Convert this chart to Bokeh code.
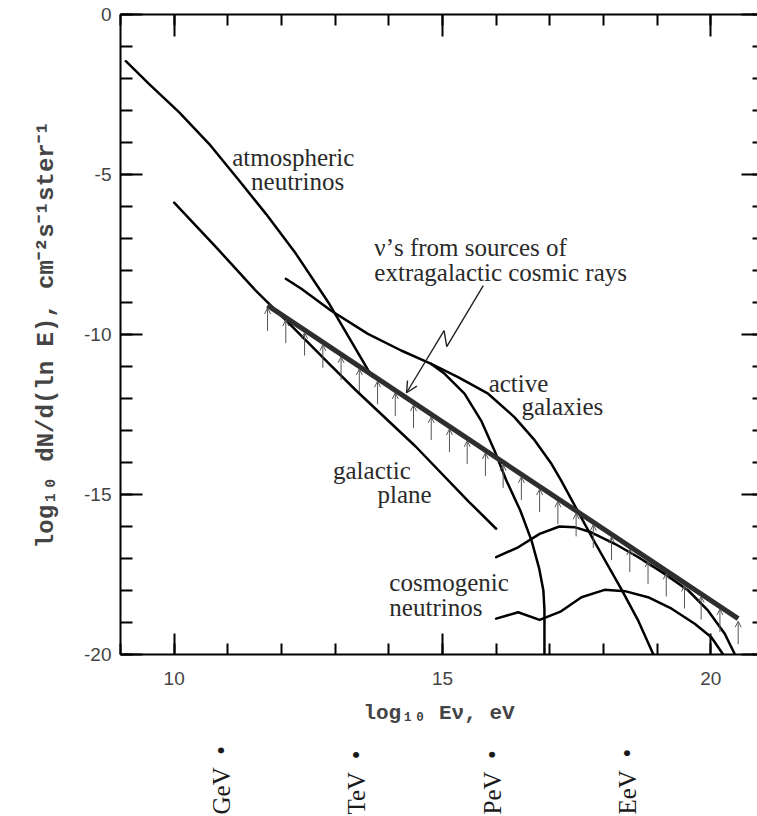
import numpy as np
from bokeh.plotting import figure
from bokeh.models import (Range1d, LinearAxis, FixedTicker, Arrow, OpenHead,
                          ColumnDataSource)
from bokeh.layouts import column
from bokeh.embed import file_html
from bokeh.resources import INLINE
from bokeh.core.properties import value

# ---------------- data ----------------
# x = log10(E / eV), y = log10 dN/d(ln E)
atmo_x = [9.10, 9.53, 10.09, 10.65, 11.21, 11.71, 12.27, 12.89, 13.68]
atmo_y = [-1.46, -2.17, -3.05, -4.04, -5.19, -6.23, -7.48, -9.04, -11.30]

galplane_x = [10.00, 10.78, 11.52, 12.21, 12.89, 13.39, 14.50, 15.47, 16.00]
galplane_y = [-5.88, -7.27, -8.63, -9.77, -10.92, -11.75, -13.50, -15.19, -16.07]

agn_common_x = [12.08, 12.37, 12.92, 13.61, 14.23, 14.79]
agn_common_y = [-8.26, -8.57, -9.25, -9.98, -10.50, -10.92]

agn_a_x = [14.79, 15.04, 15.41, 15.72, 15.97, 16.19, 16.45, 16.66, 16.80, 16.88, 16.90, 16.90]
agn_a_y = [-10.92, -11.23, -11.85, -12.69, -13.63, -14.56, -15.50, -16.44, -17.30, -18.00, -18.60, -20.00]

agn_b_x = [14.79, 15.29, 15.85, 16.34, 16.72, 17.03, 17.21, 17.53, 17.84, 18.33, 18.65, 18.93]
agn_b_y = [-10.92, -11.33, -11.85, -12.58, -13.31, -14.04, -14.56, -15.55, -16.50, -17.95, -18.95, -20.00]

cosmo_hi_x = [16.00, 16.41, 16.81, 17.18, 17.46, 17.77, 18.21, 18.65, 19.14, 19.58, 19.95, 20.26, 20.45]
cosmo_hi_y = [-16.96, -16.65, -16.23, -16.00, -16.02, -16.18, -16.54, -16.96, -17.48, -18.00, -18.63, -19.35, -20.00]

cosmo_lo_x = [16.00, 16.41, 16.81, 17.21, 17.59, 18.02, 18.40, 18.83, 19.27, 19.70, 20.01, 20.23]
cosmo_lo_y = [-18.88, -18.68, -18.92, -18.65, -18.21, -17.98, -18.02, -18.21, -18.57, -19.04, -19.46, -20.00]

# bound from sources of extragalactic cosmic rays (lower limit, with arrows)
eg_x = [11.74, 20.51]
eg_y = [-9.09, -18.88]
eg_arrow_x = [11.74, 12.08, 12.43, 12.77, 13.11, 13.45, 13.79, 14.12, 14.46,
              14.79, 15.13, 15.46, 15.80, 16.13, 16.47, 16.81, 17.15, 17.49,
              17.81, 18.15, 18.49, 18.83, 19.17, 19.51, 19.82, 20.17, 20.51]

# zig-zag pointer to the bound: polyline then arrow tip
pointer_x = [15.76, 15.08, 15.03]
pointer_y = [-8.47, -10.38, -9.88]
pointer_tip = (14.33, -11.82)

energy_names = ["GeV", "TeV", "PeV", "EeV"]
energy_log10 = [9, 12, 15, 18]

x_major = [10, 15, 20]
x_minor = list(range(9, 22))
x_tick_labels = ["10", "15", "20"]
y_major = [-20, -15, -10, -5, 0]
y_minor = list(range(-20, 1))
y_tick_labels = ["-20", "-15", "-10", "-5", "0"]

centered_labels = [("atmospheric", 12.22, -4.46), ("neutrinos", 12.30, -5.22)]
left_labels = [("\u03bd\u2019s from sources of", 13.73, -7.29),
               ("extragalactic cosmic rays", 13.73, -8.06),
               ("active", 15.86, -11.52),
               ("galaxies", 16.47, -12.24),
               ("galactic", 12.96, -14.26),
               ("plane", 13.79, -14.99),
               ("cosmogenic", 14.01, -17.76),
               ("neutrinos", 14.01, -18.54)]

# ---------------- layout constants ----------------
W = 757
LEFT = 120
X0, X1 = 9.0, 20.87
H1, H2 = 730, 85

SERIF = value("Liberation Serif")
MONO = "Liberation Mono"
SANS = "Liberation Sans"

p = figure(width=W, height=H1, x_range=Range1d(X0, X1), y_range=Range1d(-20, 0),
           toolbar_location=None, output_backend="svg",
           min_border_left=LEFT, min_border_right=0, min_border_top=14,
           min_border_bottom=76, outline_line_color=None)
p.grid.visible = False
p.background_fill_color = "white"
p.border_fill_color = "white"


def style_axis(ax, major, minor, maj_in, min_in, line=True):
    ax.ticker = FixedTicker(ticks=major, minor_ticks=minor)
    ax.major_tick_in = maj_in
    ax.major_tick_out = 0
    ax.minor_tick_in = min_in
    ax.minor_tick_out = 0
    ax.major_tick_line_width = 2
    ax.minor_tick_line_width = 2
    ax.major_tick_line_color = "black"
    ax.minor_tick_line_color = "black"
    ax.axis_line_width = 2
    ax.axis_line_color = "black" if line else None


def hide_labels(ax, major):
    ax.major_label_overrides = {v: "" for v in major}
    ax.major_label_text_color = None
    ax.major_label_standoff = 0


xb = p.xaxis[0]
style_axis(xb, x_major, x_minor, 21, 11)
xb.major_label_overrides = {v: s for v, s in zip(x_major, x_tick_labels)}
xb.major_label_text_font = SANS
xb.major_label_text_font_size = "19px"
xb.major_label_standoff = 17
xb.axis_label = "log\u2081\u2080 E\u03bd, eV"
xb.axis_label_text_font = MONO
xb.axis_label_text_font_size = "21px"
xb.axis_label_text_font_style = "bold"
xb.axis_label_standoff = 14

yl = p.yaxis[0]
style_axis(yl, y_major, y_minor, 22, 12)
yl.major_label_overrides = {v: s for v, s in zip(y_major, y_tick_labels)}
yl.major_label_text_font = SANS
yl.major_label_text_font_size = "19px"
yl.major_label_standoff = 9
yl.axis_label = "log\u2081\u2080 dN/d(ln E), cm\u207b\u00b2s\u207b\u00b9ster\u207b\u00b9"
yl.axis_label_text_font = MONO
yl.axis_label_text_font_size = "24px"
yl.axis_label_text_font_style = "bold"
yl.axis_label_standoff = 21

xt = LinearAxis()
style_axis(xt, x_major, x_minor, 22, 11)
hide_labels(xt, x_major)
p.add_layout(xt, "above")

yr = LinearAxis()
style_axis(yr, y_major, y_minor, 16, 5, line=False)
hide_labels(yr, y_major)
p.add_layout(yr, "right")

# ---------------- curves ----------------
curve_kw = dict(line_color="black", line_width=2.5, line_join="round", line_cap="round")
p.line(atmo_x, atmo_y, **curve_kw)
p.line(galplane_x, galplane_y, **curve_kw)
p.line(agn_common_x, agn_common_y, **curve_kw)
p.line(agn_a_x, agn_a_y, **curve_kw)
p.line(agn_b_x, agn_b_y, **curve_kw)
p.line(cosmo_hi_x, cosmo_hi_y, **curve_kw)
p.line(cosmo_lo_x, cosmo_lo_y, **curve_kw)

# thick bound line
p.line(eg_x, eg_y, line_color="#2e2e2e", line_width=5)

# upward arrows under the bound
tips = np.interp(eg_arrow_x, eg_x, eg_y) - 0.08
arrow_src = ColumnDataSource(dict(x0=eg_arrow_x, y0=tips - 0.72,
                                  x1=eg_arrow_x, y1=tips))
p.add_layout(Arrow(end=OpenHead(size=6, line_color="#555555", line_width=1),
                   x_start="x0", y_start="y0", x_end="x1", y_end="y1",
                   source=arrow_src, line_color="#555555", line_width=1))

# zig-zag pointer
p.line(pointer_x, pointer_y, line_color="#222222", line_width=1.4)
p.add_layout(Arrow(end=OpenHead(size=11, line_color="#222222", line_width=1.4),
                   x_start=pointer_x[-1], y_start=pointer_y[-1],
                   x_end=pointer_tip[0], y_end=pointer_tip[1],
                   line_color="#222222", line_width=1.4))

# ---------------- curve labels ----------------
lab_kw = dict(text_font=SERIF, text_font_size="25px", text_color="#2a2a2a",
              text_baseline="alphabetic")
p.text(x=[c[1] for c in centered_labels], y=[c[2] for c in centered_labels],
       text=[c[0] for c in centered_labels], text_align="center", **lab_kw)
p.text(x=[c[1] for c in left_labels], y=[c[2] for c in left_labels],
       text=[c[0] for c in left_labels], text_align="left", **lab_kw)

# ---------------- energy unit strip ----------------
frame_w = W - LEFT
x2_start = X0 - LEFT * (X1 - X0) / frame_w
p2 = figure(width=W, height=H2, x_range=Range1d(x2_start, X1), y_range=Range1d(0, H2),
            toolbar_location=None, output_backend="svg", min_border=0,
            x_axis_location=None, y_axis_location=None, outline_line_color=None)
p2.grid.visible = False
p2.text(x=energy_log10, y=[1.0] * len(energy_log10),
        text=[n + "\u2002\u2022" for n in energy_names],
        angle=np.pi / 2, text_align="left", text_baseline="middle",
        text_font=SERIF, text_font_size="25px", text_color="#1a1a1a")

layout = column(p, p2, spacing=0)
open("out.html", "w").write(file_html(layout, INLINE))
